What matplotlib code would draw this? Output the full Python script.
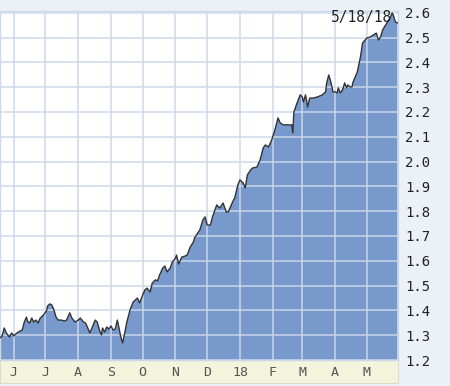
import matplotlib
matplotlib.use('Agg')
import matplotlib.pyplot as plt
from matplotlib.patches import Rectangle
import pandas as pd

dates = ['2017-05-19', '2017-05-21', '2017-05-23', '2017-05-25', '2017-05-27', '2017-05-28',
         '2017-05-30', '2017-06-01', '2017-06-04', '2017-06-07', '2017-06-09', '2017-06-11',
         '2017-06-13', '2017-06-14', '2017-06-16', '2017-06-18', '2017-06-20', '2017-06-22',
         '2017-06-24', '2017-06-26', '2017-06-29', '2017-07-02', '2017-07-03', '2017-07-05',
         '2017-07-07', '2017-07-09', '2017-07-11', '2017-07-13', '2017-07-16', '2017-07-19',
         '2017-07-21', '2017-07-24', '2017-07-26', '2017-07-29', '2017-08-01', '2017-08-03',
         '2017-08-06', '2017-08-08', '2017-08-10', '2017-08-12', '2017-08-14', '2017-08-17',
         '2017-08-19', '2017-08-21', '2017-08-23', '2017-08-24', '2017-08-26', '2017-08-28',
         '2017-08-30', '2017-09-01', '2017-09-03', '2017-09-05', '2017-09-07', '2017-09-09',
         '2017-09-10', '2017-09-12', '2017-09-14', '2017-09-16', '2017-09-19', '2017-09-22',
         '2017-09-24', '2017-09-26', '2017-09-28', '2017-10-01', '2017-10-03', '2017-10-05',
         '2017-10-08', '2017-10-10', '2017-10-13', '2017-10-15', '2017-10-17', '2017-10-20',
         '2017-10-22', '2017-10-24', '2017-10-27', '2017-10-29', '2017-11-01', '2017-11-02',
         '2017-11-04', '2017-11-07', '2017-11-10', '2017-11-12', '2017-11-15', '2017-11-18',
         '2017-11-19', '2017-11-22', '2017-11-24', '2017-11-27', '2017-11-29', '2017-12-01',
         '2017-12-04', '2017-12-06', '2017-12-10', '2017-12-13', '2017-12-16', '2017-12-19',
         '2017-12-21', '2017-12-25', '2017-12-27', '2017-12-30', '2018-01-01', '2018-01-04',
         '2018-01-06', '2018-01-08', '2018-01-11', '2018-01-13', '2018-01-17', '2018-01-20',
         '2018-01-23', '2018-01-25', '2018-01-28', '2018-01-31', '2018-02-03', '2018-02-06',
         '2018-02-08', '2018-02-11', '2018-02-15', '2018-02-19', '2018-02-20', '2018-02-21',
         '2018-02-24', '2018-02-27', '2018-03-01', '2018-03-02', '2018-03-04', '2018-03-05',
         '2018-03-06', '2018-03-08', '2018-03-11', '2018-03-15', '2018-03-20', '2018-03-23',
         '2018-03-24', '2018-03-26', '2018-03-28', '2018-03-30', '2018-04-01', '2018-04-03',
         '2018-04-04', '2018-04-06', '2018-04-08', '2018-04-09', '2018-04-10', '2018-04-12',
         '2018-04-13', '2018-04-15', '2018-04-17', '2018-04-18', '2018-04-22', '2018-04-25',
         '2018-04-27', '2018-05-01', '2018-05-04', '2018-05-07', '2018-05-10', '2018-05-12',
         '2018-05-14', '2018-05-16', '2018-05-20', '2018-05-23', '2018-05-25', '2018-05-26',
         '2018-05-28', '2018-05-30']

values = [1.289, 1.297, 1.329, 1.309, 1.297, 1.293,
          1.309, 1.297, 1.309, 1.317, 1.321, 1.353,
          1.373, 1.357, 1.349, 1.369, 1.353, 1.361,
          1.349, 1.369, 1.381, 1.398, 1.418, 1.426,
          1.422, 1.402, 1.373, 1.361, 1.361, 1.357,
          1.361, 1.390, 1.369, 1.353, 1.361, 1.369,
          1.353, 1.349, 1.329, 1.309, 1.329, 1.361,
          1.353, 1.321, 1.301, 1.329, 1.313, 1.333,
          1.325, 1.337, 1.321, 1.325, 1.361, 1.321,
          1.297, 1.269, 1.309, 1.353, 1.402, 1.434,
          1.442, 1.450, 1.430, 1.462, 1.482, 1.490,
          1.474, 1.510, 1.523, 1.519, 1.543, 1.571,
          1.579, 1.555, 1.571, 1.595, 1.611, 1.623,
          1.587, 1.615, 1.619, 1.623, 1.656, 1.676,
          1.692, 1.712, 1.724, 1.765, 1.777, 1.744,
          1.744, 1.777, 1.825, 1.813, 1.833, 1.797,
          1.797, 1.837, 1.853, 1.906, 1.926, 1.914,
          1.894, 1.946, 1.966, 1.974, 1.978, 2.006,
          2.055, 2.067, 2.059, 2.087, 2.127, 2.176,
          2.156, 2.148, 2.148, 2.148, 2.115, 2.200,
          2.236, 2.269, 2.260, 2.240, 2.269, 2.248,
          2.220, 2.256, 2.256, 2.260, 2.269, 2.281,
          2.317, 2.349, 2.321, 2.281, 2.281, 2.277,
          2.297, 2.277, 2.289, 2.301, 2.317, 2.297,
          2.309, 2.301, 2.301, 2.321, 2.361, 2.422,
          2.478, 2.498, 2.502, 2.510, 2.518, 2.490,
          2.502, 2.531, 2.559, 2.579, 2.599, 2.591,
          2.563, 2.559]

month_starts = ['2017-06-01', '2017-07-01', '2017-08-01', '2017-09-01', '2017-10-01',
                '2017-11-01', '2017-12-01', '2018-01-01', '2018-02-01', '2018-03-01',
                '2018-04-01', '2018-05-01']
month_labels = ['J', 'J', 'A', 'S', 'O', 'N', 'D', '18', 'F', 'M', 'A', 'M']
y_ticks = [1.2, 1.3, 1.4, 1.5, 1.6, 1.7, 1.8, 1.9, 2.0, 2.1, 2.2, 2.3, 2.4, 2.5, 2.6]
last_label = '5/18/18'

x = pd.to_datetime(dates)
mx = pd.to_datetime(month_starts)

bg = '#ecf1f7'
fill_color = '#7799cc'
grid_color = '#cdd8ea'
font = 'DejaVu Sans Mono'

fig = plt.figure(figsize=(4.5, 3.86), dpi=100, facecolor=bg)
# date band under the plot, kept behind the axes so the labels show
band = Rectangle((0, 3 / 386), 398 / 450, 23 / 386, transform=fig.transFigure,
                 facecolor='#f4f3dc', edgecolor='#dcdccb', lw=0.8, zorder=-5)
fig.add_artist(band)

ax = fig.add_axes([0, 26 / 386, 398 / 450, 349 / 386])
ax.set_facecolor('white')

ax.fill_between(x, 1.0, values, color=fill_color, lw=0, zorder=1)
for xv in mx:
    ax.axvline(xv, color=grid_color, lw=1.4, alpha=0.75, zorder=2)
for yv in y_ticks:
    ax.axhline(yv, color=grid_color, lw=1.4, alpha=0.75, zorder=2)
ax.plot(x, values, color='#333333', lw=1.0, zorder=3)

ax.set_xlim(pd.Timestamp('2017-05-19'), pd.Timestamp('2018-05-30 12:00'))
ax.set_ylim(1.2, 2.607)

ax.set_xticks(mx)
ax.set_xticklabels(month_labels, fontfamily=font, fontsize=9.5, color='#555555')
ax.tick_params(axis='x', length=0, pad=4)

ax.yaxis.tick_right()
ax.set_yticks(y_ticks)
ax.set_yticklabels([f'{v:.1f}' for v in y_ticks], fontfamily=font, fontsize=10, color='#222222')
ax.tick_params(axis='y', length=0, pad=5)

for s in ax.spines.values():
    s.set_color(grid_color)
    s.set_linewidth(1.0)

ax.text(0.985, 0.98, last_label, transform=ax.transAxes, ha='right', va='center',
        fontfamily=font, fontsize=10.5, color='#222222', zorder=4)

plt.savefig('out.png', dpi=100, facecolor=bg)
